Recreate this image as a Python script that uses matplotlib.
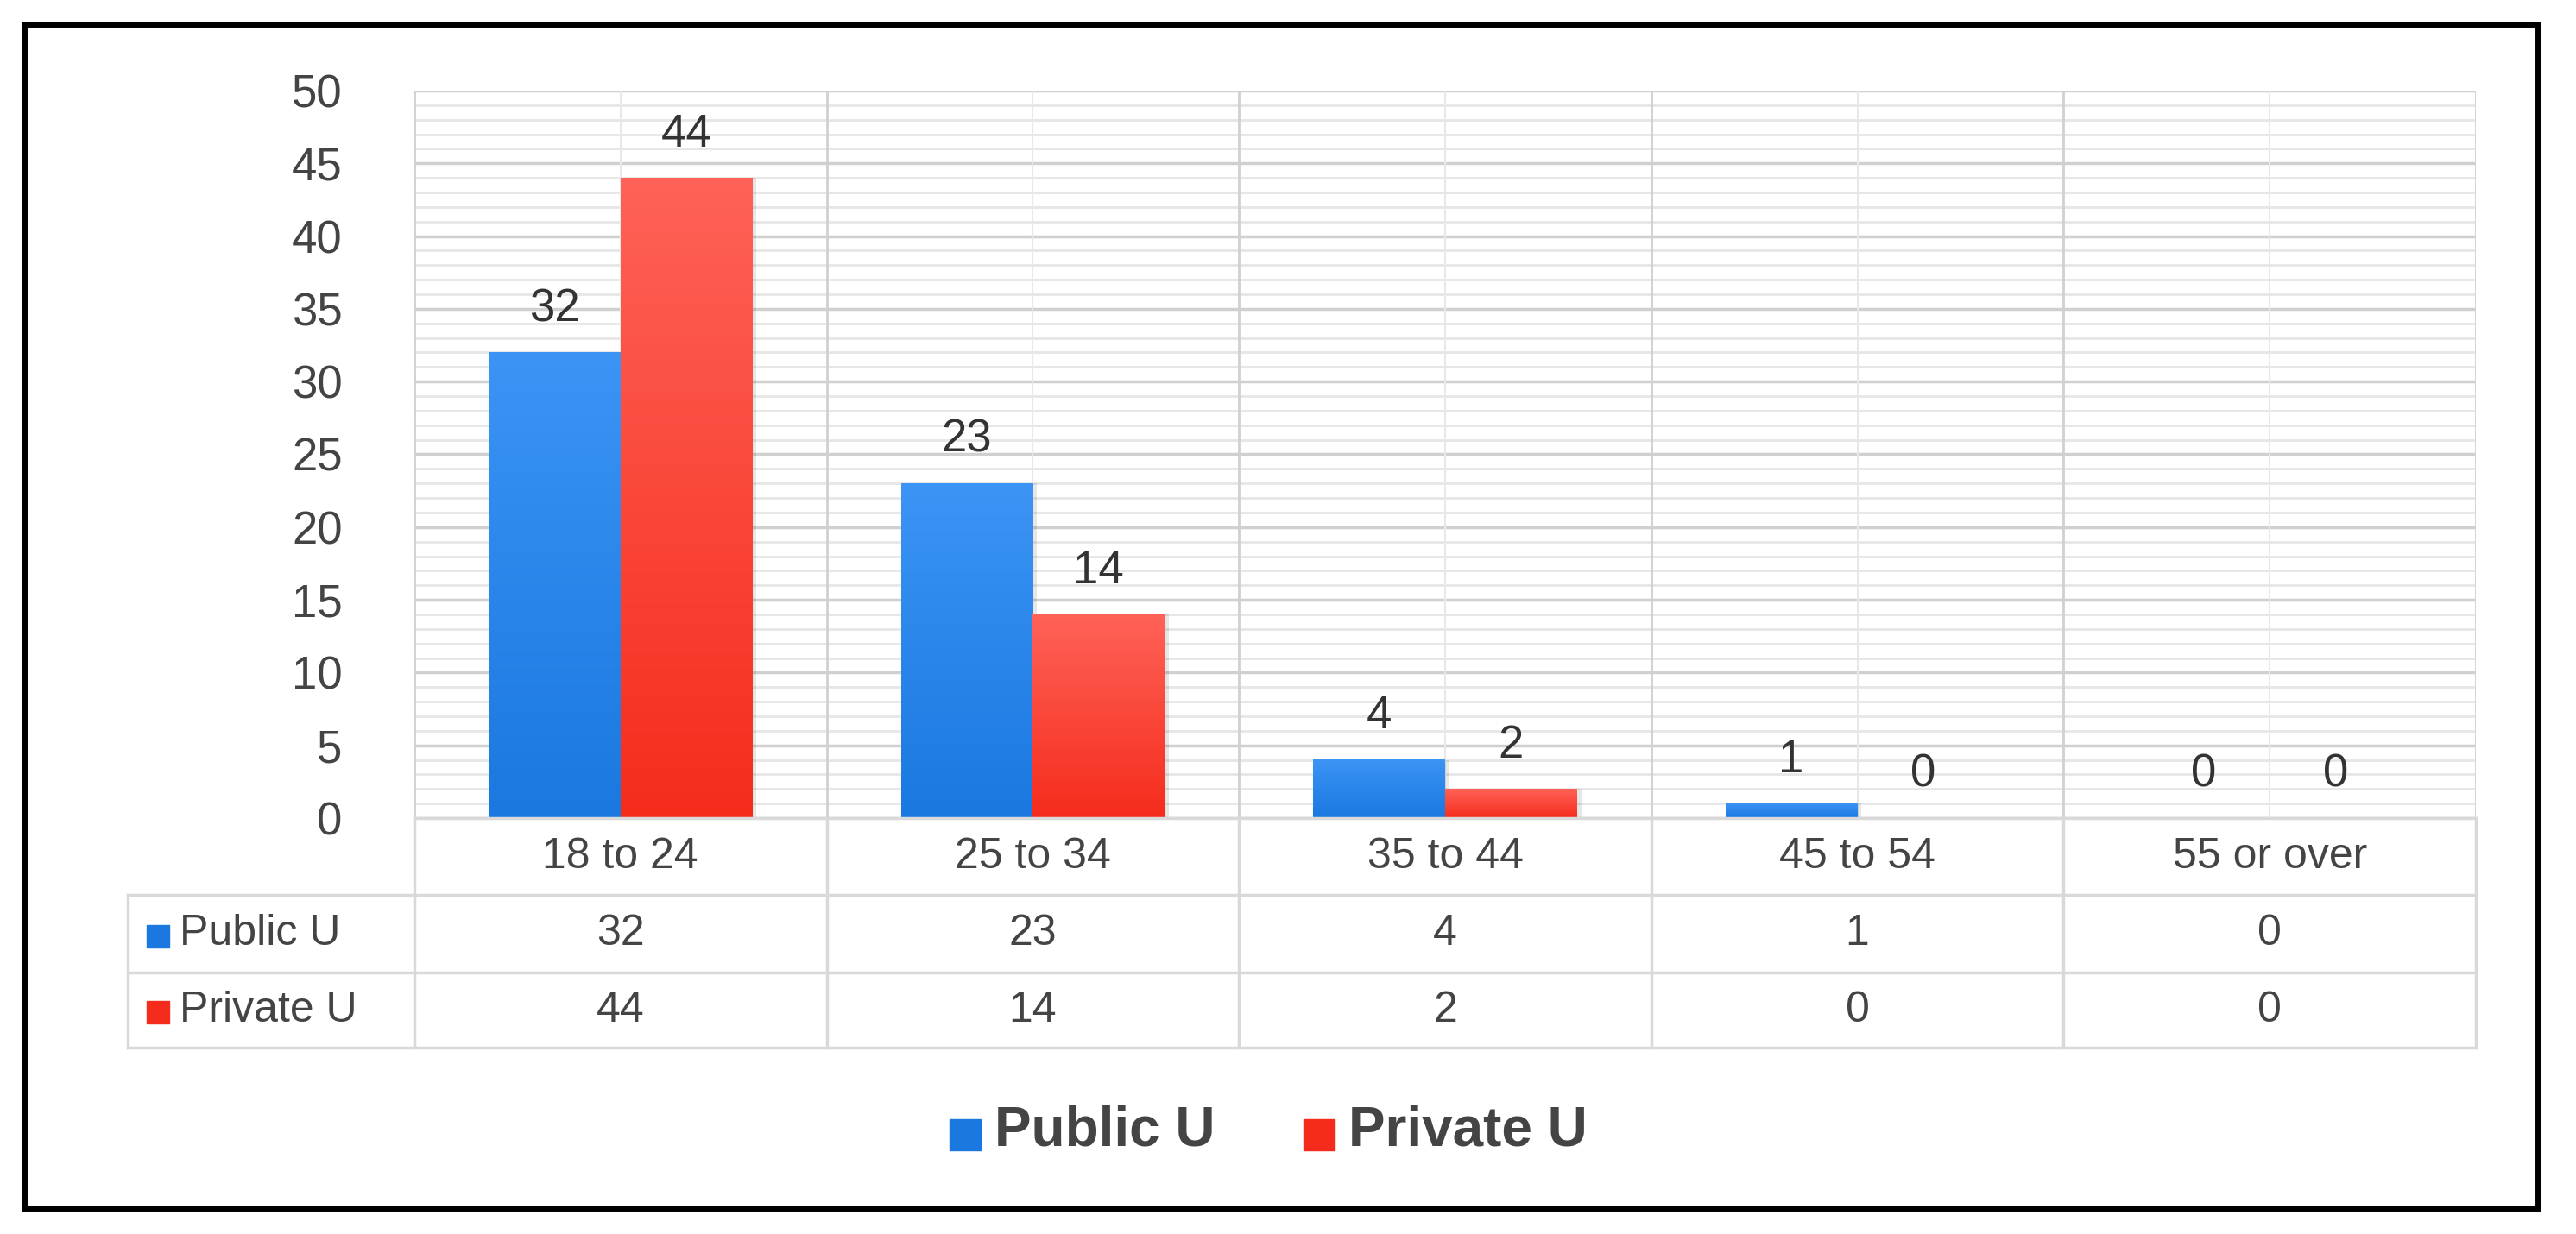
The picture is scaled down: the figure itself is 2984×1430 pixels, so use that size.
import matplotlib.pyplot as plt
import numpy as np

# DATA
categories = ["18 to 24", "25 to 34", "35 to 44", "45 to 54", "55 or over"]
series_names = ["Public U", "Private U"]
public_u = [32, 23, 4, 1, 0]
private_u = [44, 14, 2, 0, 0]

plt.rcParams['font.family'] = ['Liberation Sans', 'DejaVu Sans']

W, H = 2984, 1430
fig = plt.figure(figsize=(W / 100, H / 100), dpi=100)

# plot area in pixel coords
x0, x1 = 480, 2868
y_top, y_bot = 105, 948
ax = fig.add_axes([x0 / W, 1 - y_bot / H, (x1 - x0) / W, (y_bot - y_top) / H])

n = len(categories)
ax.set_xlim(0, n)
ax.set_ylim(0, 50)

# grid
for v in range(0, 51):
    major = v % 5 == 0
    ax.axhline(v, color='#d0d0d0' if major else '#e6e6e6',
               lw=2.5 if major else 2, zorder=0)
for i in range(n + 1):
    ax.axvline(i, color='#d0d0d0', lw=2, zorder=0)
for i in range(n):
    ax.axvline(i + 0.5, color='#e8e8e8', lw=1.5, zorder=0)

bw = 0.32
colors = [('#1a78e0', '#3c94f5'), ('#f52c1c', '#ff6258')]


def grad_bar(xl, h, c_bot, c_top):
    if h <= 0:
        return
    ax.bar(xl, h, bw, align='edge', color='none', zorder=2)
    grad = np.linspace(0, 1, 256).reshape(-1, 1)
    from matplotlib.colors import LinearSegmentedColormap
    cm = LinearSegmentedColormap.from_list('g', [c_bot, c_top])
    ax.imshow(grad, cmap=cm, origin='lower', aspect='auto',
              extent=(xl, xl + bw, 0, h), zorder=3)
    # soft shadow
    ax.bar(xl + 0.01, h, bw, align='edge', color='#00000018', zorder=2.5)


for s, vals in enumerate([public_u, private_u]):
    for i, v in enumerate(vals):
        xl = i + 0.5 - bw + s * bw
        grad_bar(xl, v, *colors[s])
        ax.text(xl + bw / 2, v + 1.5, str(v), ha='center', va='bottom',
                fontsize=38, color='#333333', zorder=5)

ax.set_xlim(0, n)
ax.set_ylim(0, 50)
ax.set_xticks([])
ax.set_yticks(range(0, 51, 5))
ax.tick_params(axis='y', length=0, labelsize=38, labelcolor='#444444', pad=60)
for sp in ax.spines.values():
    sp.set_visible(False)

# table drawn in figure pixel coords
lc = '#d9d9d9'
row_y = [948, 1037, 1127, 1214]
left = 148
col_w = (x1 - x0) / n


def fx(px):
    return px / W


def fy(py):
    return 1 - py / H


fig.add_artist(plt.Line2D([fx(x0), fx(x1)], [fy(row_y[0])] * 2, color=lc, lw=2.5))
for ry in row_y[1:]:
    fig.add_artist(plt.Line2D([fx(left), fx(x1)], [fy(ry)] * 2, color=lc, lw=2.5))
for i in range(n + 1):
    xx = x0 + i * col_w
    fig.add_artist(plt.Line2D([fx(xx)] * 2, [fy(row_y[0]), fy(row_y[3])], color=lc, lw=2.5))
fig.add_artist(plt.Line2D([fx(left)] * 2, [fy(row_y[1]), fy(row_y[3])], color=lc, lw=2.5))

for i, c in enumerate(categories):
    fig.text(fx(x0 + (i + 0.5) * col_w), fy((row_y[0] + row_y[1]) / 2), c,
             ha='center', va='center', fontsize=36, color='#444444')
for r, (name, vals) in enumerate(zip(series_names, [public_u, private_u])):
    yc = fy((row_y[r + 1] + row_y[r + 2]) / 2)
    fig.patches.append(plt.Rectangle((fx(170), yc - 0.011), 26 / W, 26 / H,
                                     transform=fig.transFigure, color=colors[r][0], figure=fig))
    fig.text(fx(208), yc, name, ha='left', va='center', fontsize=36, color='#444444')
    for i, v in enumerate(vals):
        fig.text(fx(x0 + (i + 0.5) * col_w), yc, str(v), ha='center', va='center',
                 fontsize=36, color='#444444')

# legend
leg_y = fy(1310)
for r, (name, lx) in enumerate(zip(series_names, [1100, 1510])):
    fig.patches.append(plt.Rectangle((fx(lx), leg_y - 0.016), 36 / W, 36 / H,
                                     transform=fig.transFigure, color=colors[r][0], figure=fig))
    fig.text(fx(lx + 52), leg_y, name, ha='left', va='center', fontsize=46,
             fontweight='bold', color='#444444')

# outer frame
fig.patches.append(plt.Rectangle((fx(28), fy(1400)), (2940 - 28) / W, (1400 - 28) / H,
                                 transform=fig.transFigure, fill=False, ec='black', lw=5, figure=fig))

fig.savefig('out.png', dpi=100, facecolor='white')
